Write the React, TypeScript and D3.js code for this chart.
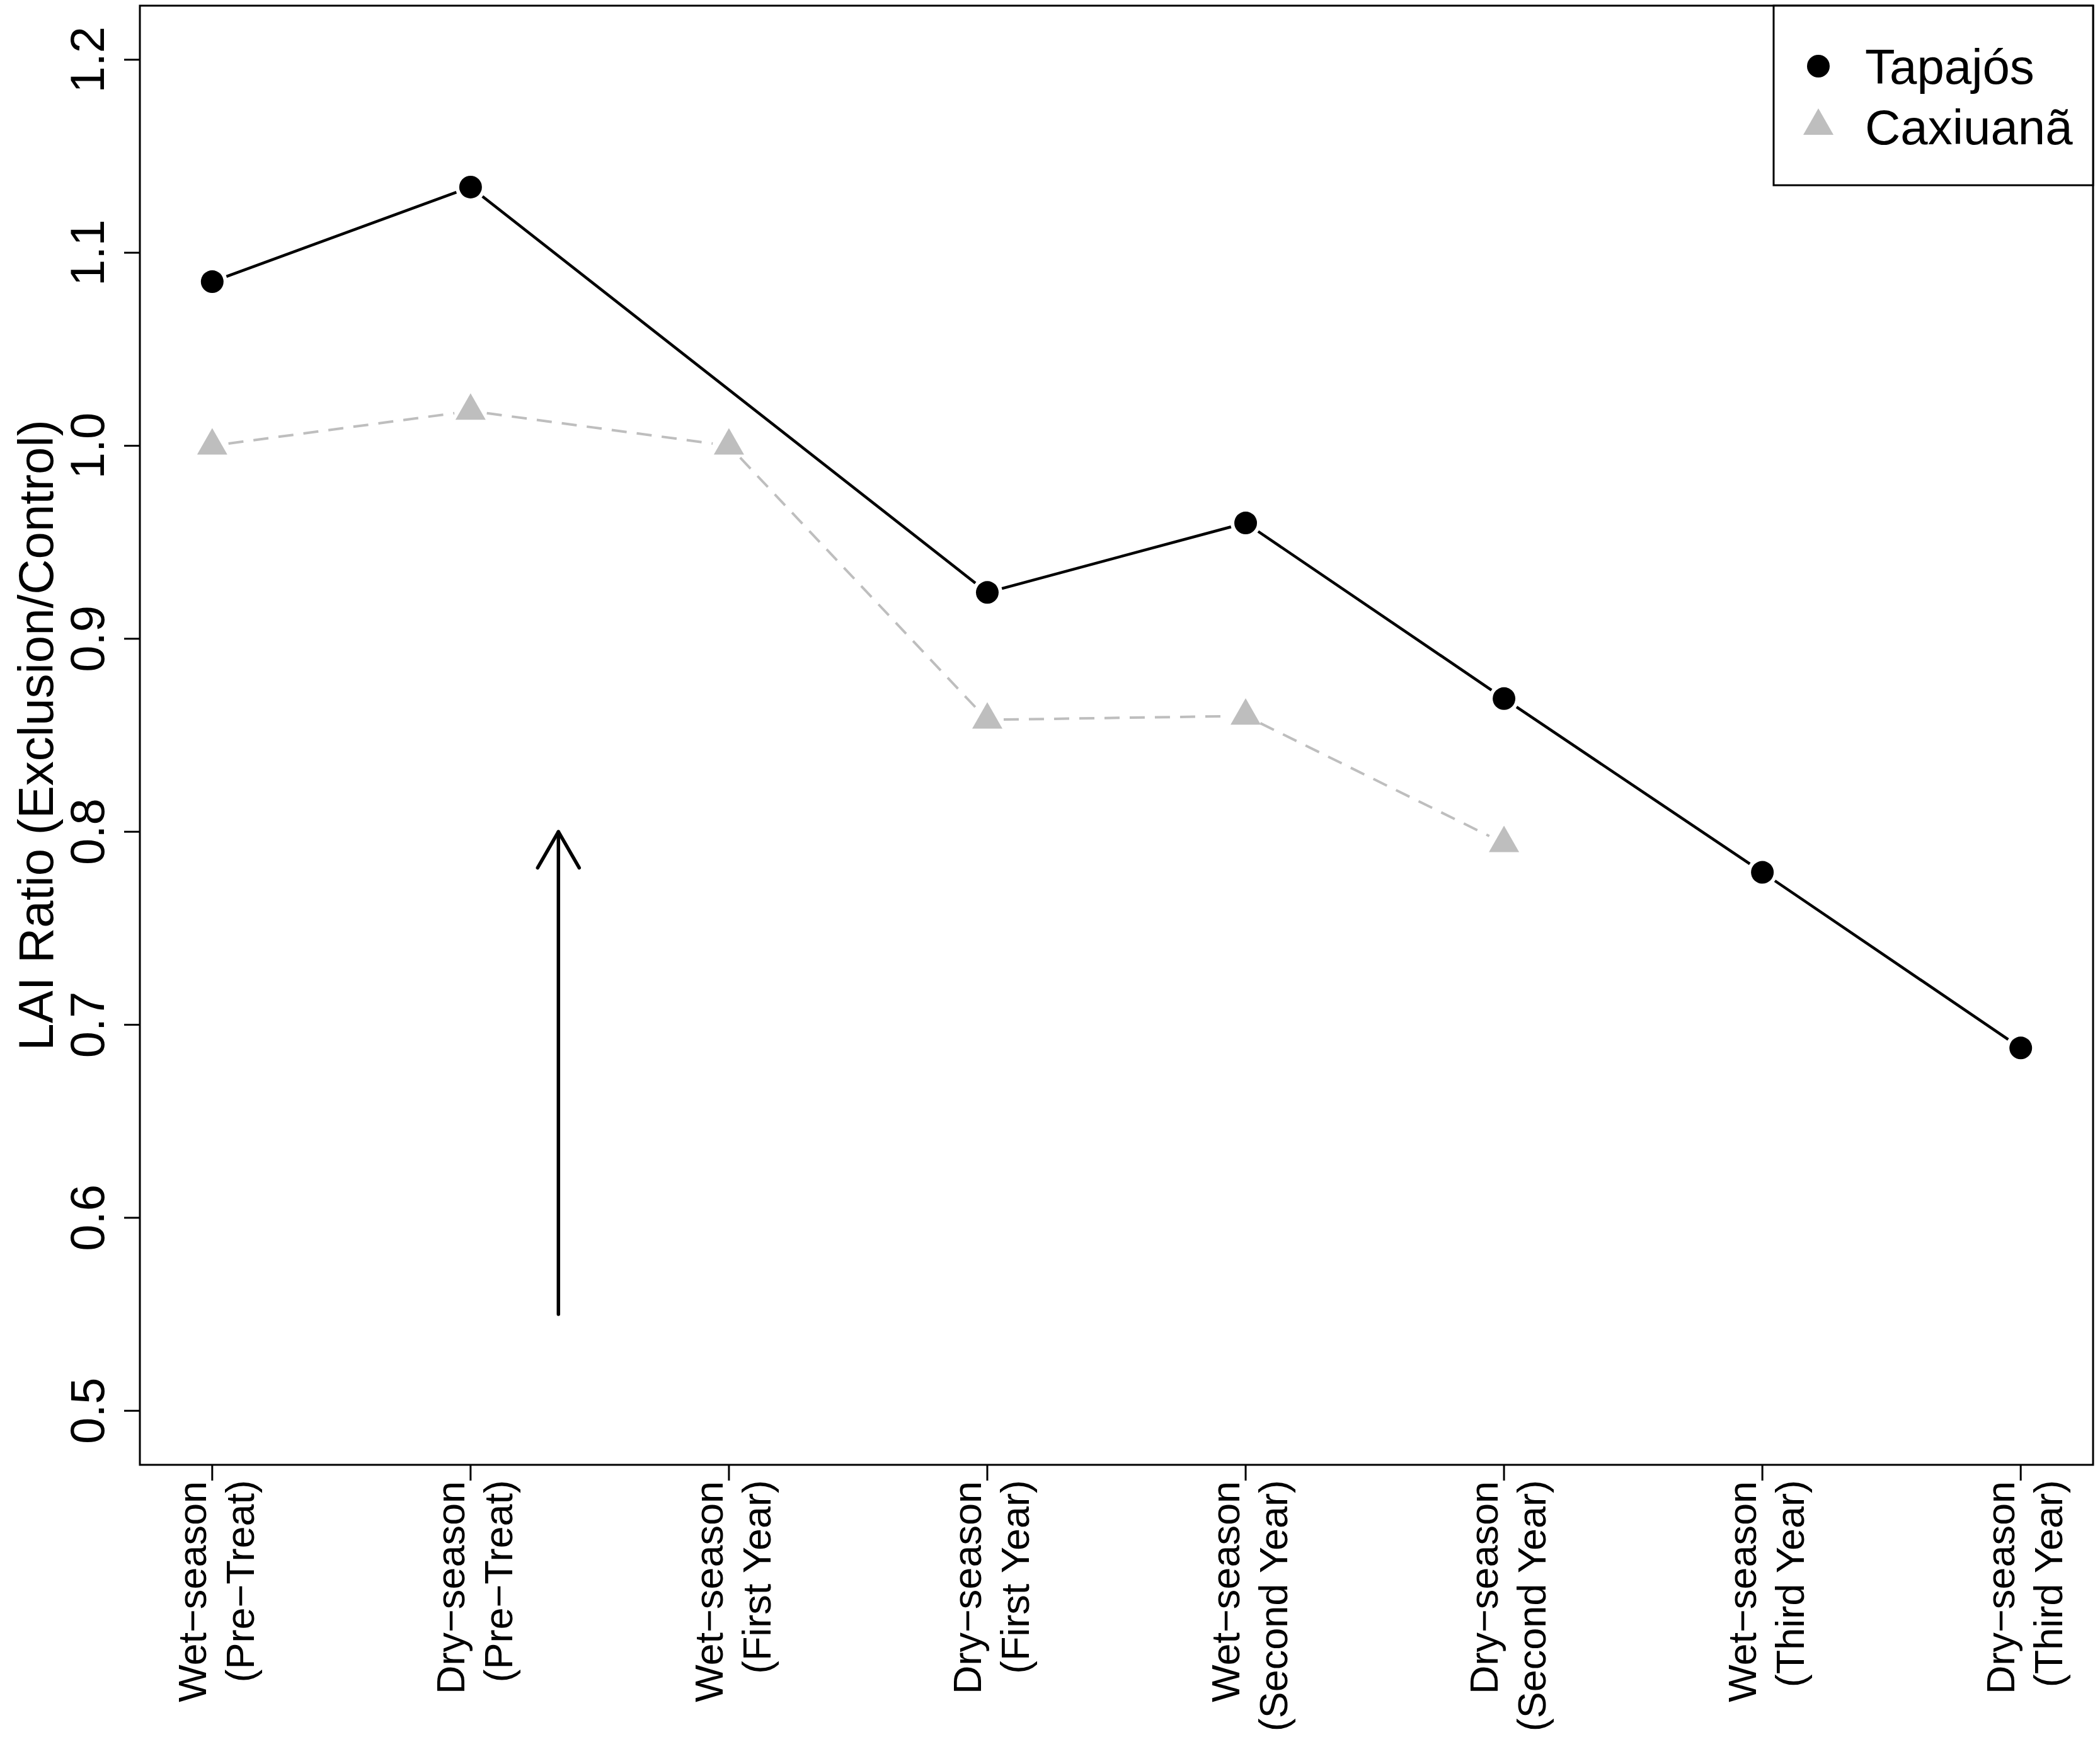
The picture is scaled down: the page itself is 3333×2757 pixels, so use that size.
import React from "react";
import * as d3 from "d3";

const categoryTop = ["Wet−season", "Dry−season", "Wet−season", "Dry−season", "Wet−season", "Dry−season", "Wet−season", "Dry−season"];
const categoryBottom = ["(Pre−Treat)", "(Pre−Treat)", "(First Year)", "(First Year)", "(Second Year)", "(Second Year)", "(Third Year)", "(Third Year)"];
const tapajos: (number | null)[] = [1.085, 1.134, null, 0.924, 0.960, 0.869, 0.779, 0.688];
const caxiuana: (number | null)[] = [1.000, 1.018, 1.000, 0.858, 0.860, 0.794, null, null];
const yTicks = [0.5, 0.6, 0.7, 0.8, 0.9, 1.0, 1.1, 1.2];
const yTickLabels = ["0.5", "0.6", "0.7", "0.8", "0.9", "1.0", "1.1", "1.2"];
const seriesNames = ["Tapajós", "Caxiuanã"];
const arrowX = 2.34;
const arrowFrom = 0.55;
const arrowTo = 0.8;

const W = 3333;
const H = 2757;
const L = 222, R = 3322, T = 9, B = 2325;
const FONT = "'Liberation Sans', Arial, Helvetica, sans-serif";
const GRAY = "#BEBEBE";

export default function App() {
  const x = d3.scaleLinear().domain([0.72, 8.28]).range([L, R]);
  const y = d3.scaleLinear().domain([0.472, 1.228]).range([B, T]);

  const pts = (vals: (number | null)[]) =>
    vals.map((v, i) => (v == null ? null : [x(i + 1), y(v)] as [number, number])).filter((p) => p) as [number, number][];

  const segs = (p: [number, number][], gap: number) => {
    const out: string[] = [];
    for (let i = 0; i < p.length - 1; i++) {
      const [x1, y1] = p[i];
      const [x2, y2] = p[i + 1];
      const len = Math.hypot(x2 - x1, y2 - y1);
      if (len <= 2 * gap) continue;
      const ux = (x2 - x1) / len, uy = (y2 - y1) / len;
      out.push(`M${x1 + ux * gap},${y1 + uy * gap}L${x2 - ux * gap},${y2 - uy * gap}`);
    }
    return out;
  };

  const tp = pts(tapajos);
  const cp = pts(caxiuana);
  const tri = (cx: number, cy: number) => {
    const w = 48, h = 42;
    return `M${cx},${cy - (2 * h) / 3}L${cx + w / 2},${cy + h / 3}L${cx - w / 2},${cy + h / 3}Z`;
  };

  const ax = x(arrowX);
  const ay0 = y(arrowFrom);
  const ay1 = y(arrowTo);
  const headLen = 66;
  const ang = (30 * Math.PI) / 180;

  return (
    <div style={{ position: "absolute", left: 0, top: 0 }}>
      <svg width={W} height={H} style={{ display: "block", background: "#fff" }} fontFamily={FONT}>
        <rect x={0} y={0} width={W} height={H} fill="#fff" />
        {/* frame */}
        <rect x={L} y={T} width={R - L} height={B - T} fill="none" stroke="#000" strokeWidth={3} />
        {/* y axis */}
        {yTicks.map((t, i) => (
          <g key={"yt" + i}>
            <line x1={L - 25} x2={L} y1={y(t)} y2={y(t)} stroke="#000" strokeWidth={3} />
            <text
              transform={`translate(${165},${y(t)}) rotate(-90)`}
              textAnchor="middle"
              fontSize={76}
              fill="#000"
            >
              {yTickLabels[i]}
            </text>
          </g>
        ))}
        <text
          transform={`translate(${84},${(T + B) / 2}) rotate(-90)`}
          textAnchor="middle"
          fontSize={78}
          fill="#000"
        >
          LAI Ratio (Exclusion/Control)
        </text>
        {/* x axis */}
        {categoryTop.map((c, i) => {
          const cx = x(i + 1);
          return (
            <g key={"xt" + i}>
              <line x1={cx} x2={cx} y1={B} y2={B + 25} stroke="#000" strokeWidth={3} />
              <text transform={`translate(${cx - 10},${B + 26}) rotate(-90)`} textAnchor="end" fontSize={63} fill="#000">
                {c}
              </text>
              <text transform={`translate(${cx + 66},${B + 24}) rotate(-90)`} textAnchor="end" fontSize={63} fill="#000">
                {categoryBottom[i]}
              </text>
            </g>
          );
        })}
        {/* Caxiuana dashed */}
        {segs(cp, 26).map((d, i) => (
          <path key={"cs" + i} d={d} stroke={GRAY} strokeWidth={4} strokeDasharray="24 16" fill="none" />
        ))}
        {cp.map(([px, py], i) => (
          <path key={"cm" + i} d={tri(px, py)} fill={GRAY} />
        ))}
        {/* Tapajos solid */}
        {segs(tp, 24).map((d, i) => (
          <path key={"ts" + i} d={d} stroke="#000" strokeWidth={4.5} fill="none" />
        ))}
        {tp.map(([px, py], i) => (
          <circle key={"tm" + i} cx={px} cy={py} r={18} fill="#000" />
        ))}
        {/* arrow */}
        <line x1={ax} x2={ax} y1={ay0} y2={ay1} stroke="#000" strokeWidth={5.5} strokeLinecap="round" />
        <path
          d={`M${ax - headLen * Math.sin(ang)},${ay1 + headLen * Math.cos(ang)}L${ax},${ay1}L${ax + headLen * Math.sin(ang)},${ay1 + headLen * Math.cos(ang)}`}
          stroke="#000"
          strokeWidth={5.5}
          fill="none"
          strokeLinecap="round"
          strokeLinejoin="round"
        />
        {/* legend */}
        <rect x={2815} y={T} width={R - 2815} height={294 - T} fill="#fff" stroke="#000" strokeWidth={3} />
        <circle cx={2886} cy={105} r={18} fill="#000" />
        <path d={tri(2886, 200)} fill={GRAY} />
        <text x={2960} y={133} fontSize={78} fill="#000">{seriesNames[0]}</text>
        <text x={2960} y={229} fontSize={78} fill="#000">{seriesNames[1]}</text>
      </svg>
    </div>
  );
}
